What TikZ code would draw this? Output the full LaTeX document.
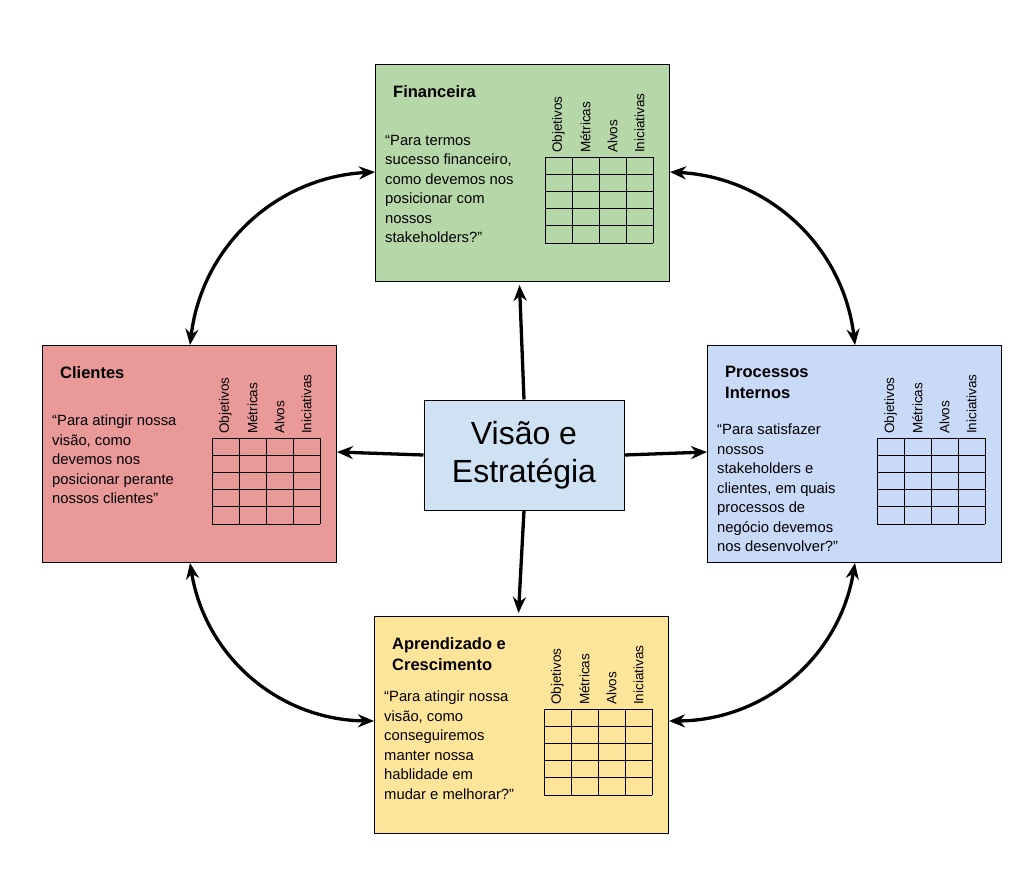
\documentclass[tikz,border=0pt]{standalone}
\usepackage{fontspec}
\setmainfont{Liberation Sans}
\usetikzlibrary{arrows.meta}

\definecolor{finGreen}{HTML}{B6D7A8}
\definecolor{cliRed}{HTML}{EA9999}
\definecolor{proBlue}{HTML}{C9DAF8}
\definecolor{apYellow}{HTML}{FFE599}
\definecolor{visBlue}{HTML}{CFE2F3}

% one perspective card: name, top-left corner, fill, title, quote
\newcommand{\perspective}[6]{%
  \node[card,fill=#4,anchor=north west] (#1) at (#2,#3) {};
  \node[title,anchor=north west] (#1-title) at ([xshift=18,yshift=-21]#1.north west) {#5};
  \node[quote,anchor=north west] (#1-quote) at ([xshift=8,yshift=#6]#1.north west) {\quotetext};
  \foreach \r in {0,...,5} {\draw[thick] ([xshift=170,yshift=-93-17.2*\r]#1.north west) -- ++(108,0);}
  \foreach \c in {0,...,4} {\draw[thick] ([xshift=170+27*\c,yshift=-93]#1.north west) -- ++(0,-86);}
  \foreach \h [count=\c from 0] in {Objetivos,Métricas,Alvos,Iniciativas}
    {\node[collabel] at ([xshift=183.5+27*\c,yshift=-90]#1.north west) {\h};}
}

\begin{document}
\begin{tikzpicture}[x=1pt,y=1pt,
    card/.style={draw,line width=1pt,minimum width=294,minimum height=217,inner sep=0},
    title/.style={font=\fontsize{16.5}{21}\selectfont\bfseries,align=left,inner sep=0},
    quote/.style={font=\fontsize{14.8}{19.5}\selectfont,align=left,inner sep=2},
    collabel/.style={font=\fontsize{13.5}{14}\selectfont,rotate=90,anchor=west,inner sep=1},
    link/.style={line width=3.3pt,{Stealth[length=16pt,width=13pt]}-{Stealth[length=16pt,width=13pt]}},
    push/.style={line width=3.3pt,-{Stealth[length=16pt,width=13pt]}}]
  \useasboundingbox (0,0) rectangle (1031,-875);

  \def\quotetext{“Para termos\\sucesso financeiro,\\como devemos nos\\posicionar com\\nossos\\stakeholders?”}
  \perspective{fin}{375}{-64}{finGreen}{Financeira}{-69}
  \def\quotetext{“Para atingir nossa\\visão, como\\devemos nos\\posicionar perante\\nossos clientes”}
  \perspective{cli}{42}{-345}{cliRed}{Clientes}{-68}
  \def\quotetext{“Para satisfazer\\nossos\\stakeholders e\\clientes, em quais\\processos de\\negócio devemos\\nos desenvolver?”}
  \perspective{pro}{707}{-345}{proBlue}{Processos\\Internos}{-77}
  \def\quotetext{“Para atingir nossa\\visão, como\\conseguiremos\\manter nossa\\hablidade em\\mudar e melhorar?”}
  \perspective{apr}{374}{-616}{apYellow}{Aprendizado e\\Crescimento}{-73}

  \node[draw,line width=1pt,fill=visBlue,minimum width=200,minimum height=110,
        align=center,font=\fontsize{32}{38}\selectfont] (vis) at (524,-455) {Visão e\\Estratégia};

  \draw[push] (vis.north) -- ([xshift=-3,yshift=-3]fin.south);
  \draw[push] (vis.west) -- ([yshift=2]cli.east);
  \draw[push] (vis.east) -- ([yshift=2]pro.west);
  \draw[push] (vis.south) -- ([xshift=-3,yshift=3]apr.north);

  \draw[link] ([yshift=-108]fin.north west) to[bend right=40] ([xshift=148]cli.north west);
  \draw[link] ([yshift=-108]fin.north east) to[bend left=40] ([xshift=148]pro.north west);
  \draw[link] ([xshift=148]cli.south west) to[bend right=40] ([yshift=-105]apr.north west);
  \draw[link] ([xshift=148]pro.south west) to[bend left=40] ([yshift=-105]apr.north east);
\end{tikzpicture}
\end{document}
